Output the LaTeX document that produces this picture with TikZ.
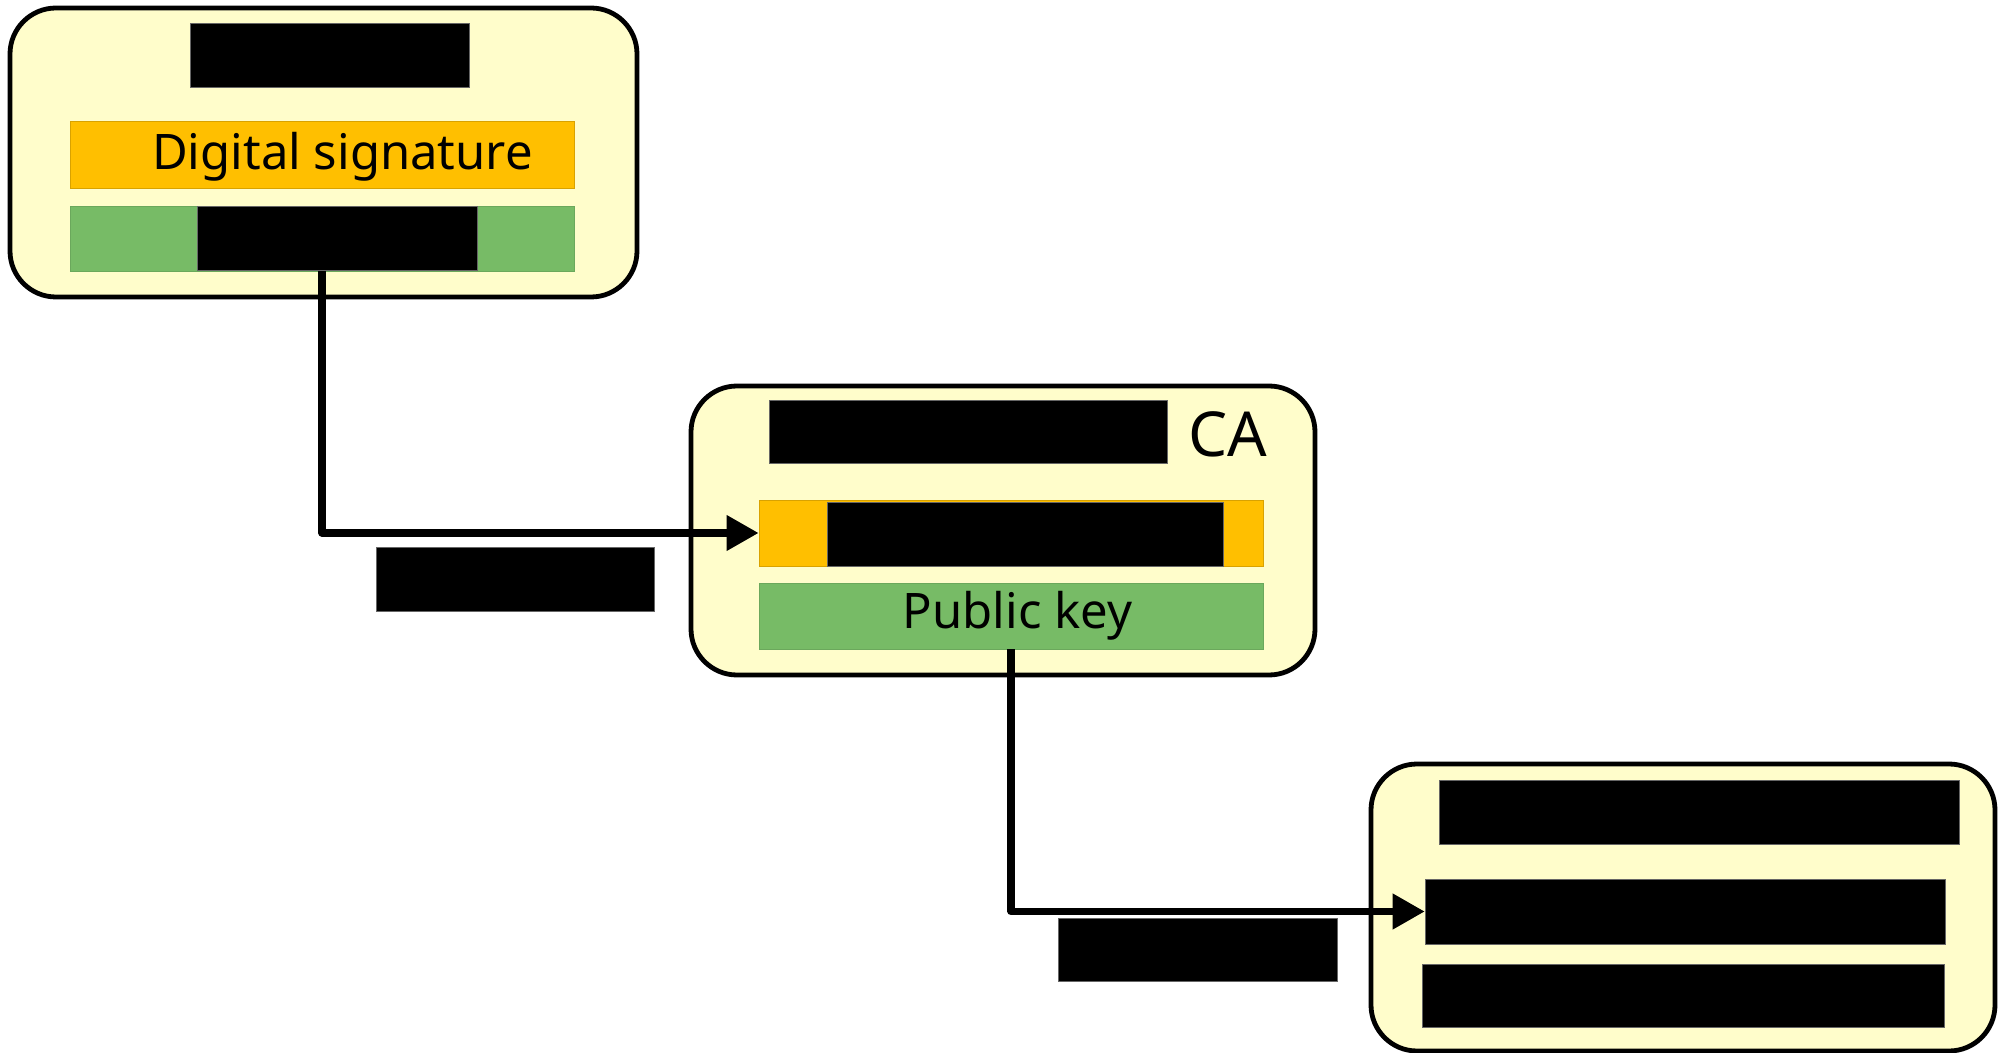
\documentclass[tikz,border=0pt]{standalone}
\usepackage{fontspec}
\setmainfont{Noto Sans}
\usetikzlibrary{arrows.meta}
\definecolor{cardyellow}{HTML}{FFFDCB}
\definecolor{sigorange}{HTML}{FFBF00}
\definecolor{keygreen}{HTML}{77BB66}
\begin{document}
\begin{tikzpicture}[x=0.5pt,y=-0.5pt,
  card/.style={draw=black,line width=2.4pt,fill=cardyellow,rounded corners=23pt,inner sep=0pt},
  bar/.style={inner sep=0pt,line width=0.4pt},
  orangebar/.style={bar,fill=sigorange,draw=sigorange!85!black},
  greenbar/.style={bar,fill=keygreen,draw=keygreen!90!black},
  redact/.style={inner sep=0pt,fill=black,draw=black!60,line width=0.3pt},
  txt/.style={inner sep=0pt,anchor=base,font=\fontsize{24.5}{29}\selectfont},
  conn/.style={line width=3.6pt,line join=round,-{Triangle[length=16pt,width=17pt]}}]
\useasboundingbox (0,0) rectangle (2004,1053);
% card 1
\node[card,minimum width=313.5pt,minimum height=144.5pt] (box1) at (323.5,152.5) {};
\node[redact,minimum width=139.5pt,minimum height=32pt] (t1) at (329.5,55) {};
\node[orangebar,minimum width=252pt,minimum height=33.5pt] (o1) at (322,154.5) {};
\node[txt] (ds) at (342.5,170) {Digital signature};
\node[greenbar,minimum width=252pt,minimum height=32.5pt] (g1) at (322,238.5) {};
\node[redact,minimum width=140pt,minimum height=32pt] (b1) at (337,238) {};
% card 2
\node[card,minimum width=312pt,minimum height=144.5pt] (box2) at (1003,530.5) {};
\node[redact,minimum width=199pt,minimum height=31.5pt] (t2) at (968,431.5) {};
\node[txt,font=\fontsize{31}{36}\selectfont] (ca) at (1228,457) {CA};
\node[orangebar,minimum width=252pt,minimum height=33pt] (o2) at (1011,533) {};
\node[redact,minimum width=198pt,minimum height=32pt] (b2) at (1025,534) {};
\node[greenbar,minimum width=252pt,minimum height=33pt] (g2) at (1011,616) {};
\node[txt] (pk) at (1017.5,629) {Public key};
% card 3
\node[card,minimum width=312pt,minimum height=143.5pt] (box3) at (1683,907.5) {};
\node[redact,minimum width=260pt,minimum height=32pt] (t3) at (1699,812) {};
\node[redact,minimum width=260pt,minimum height=32.5pt] (b3a) at (1685,911.5) {};
\node[redact,minimum width=261pt,minimum height=31.5pt] (b3b) at (1683,995.5) {};
% labels under connectors
\node[redact,minimum width=139pt,minimum height=32pt] (l1) at (515,579) {};
\node[redact,minimum width=139.5pt,minimum height=31.5pt] (l2) at (1197.5,949.5) {};
% connectors
\draw[conn] (g1.south) |- (o2.west);
\draw[conn] (g2.south) |- (b3a.west);
\end{tikzpicture}
\end{document}
